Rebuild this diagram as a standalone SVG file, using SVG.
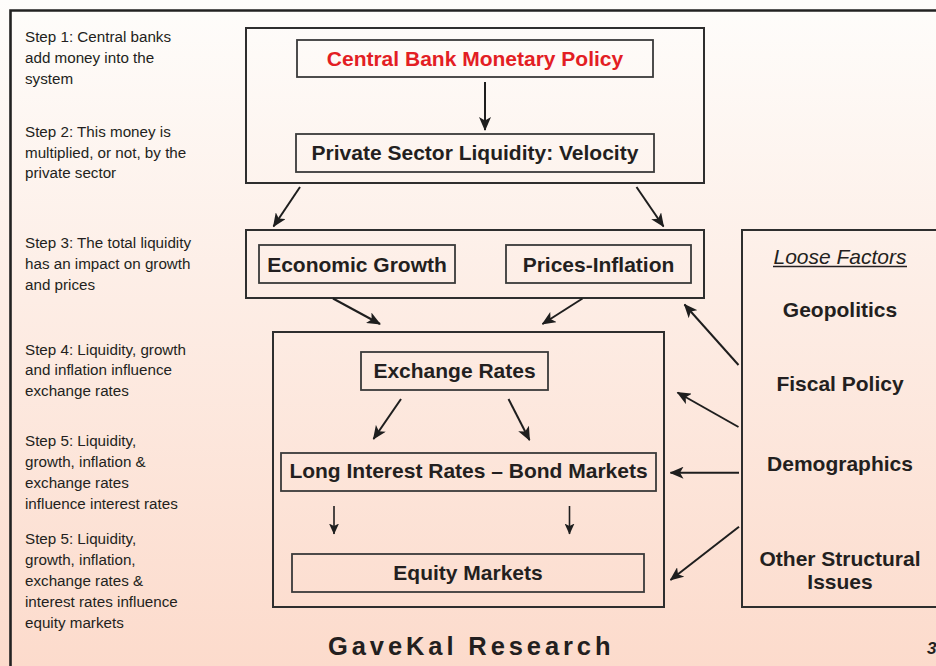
<svg xmlns="http://www.w3.org/2000/svg" width="936" height="666" viewBox="0 0 936 666">
<defs>
<linearGradient id="bg" x1="0" y1="0" x2="0" y2="1">
<stop offset="0" stop-color="#fefdfb"/>
<stop offset="0.45" stop-color="#fdede5"/>
<stop offset="1" stop-color="#fcdbcc"/>
</linearGradient>
<marker id="ah" markerUnits="userSpaceOnUse" markerWidth="14" markerHeight="12" viewBox="0 0 14 12" refX="13" refY="6" orient="auto">
<path d="M0,0 L14,6 L0,12 L3.5,6 Z" fill="#1e1e1e"/>
</marker>
<marker id="ahs" markerUnits="userSpaceOnUse" markerWidth="11" markerHeight="10" viewBox="0 0 11 10" refX="10.5" refY="5" orient="auto">
<path d="M0,0 L11,5 L0,10 L2.5,5 Z" fill="#1e1e1e"/>
</marker>
</defs>
<style>
.box{fill:none;stroke:#2e2e2e;stroke-width:2}
.ibox{fill:none;stroke:#3a3a3a;stroke-width:1.8}
.step{font-family:"Liberation Sans",Arial,sans-serif;font-size:15.2px;fill:#231f20}
.lbl{font-family:"Liberation Sans",Arial,sans-serif;font-size:21px;font-weight:bold;fill:#231f20;text-anchor:middle}
.red{fill:#e31e24}
.con{stroke:#1e1e1e;stroke-width:2;fill:none;marker-end:url(#ah)}
.cons{stroke:#1e1e1e;stroke-width:1.6;fill:none;marker-end:url(#ahs)}
</style>
<rect x="0" y="0" width="936" height="666" fill="url(#bg)"/>
<path d="M10.5,666 V10.5 H936" fill="none" stroke="#222" stroke-width="2.6"/>

<g id="steps">
<text class="step" x="25" y="42">Step 1: Central banks</text>
<text class="step" x="25" y="63">add money into the</text>
<text class="step" x="25" y="84">system</text>
<text class="step" x="25" y="137">Step 2: This money is</text>
<text class="step" x="25" y="157.5">multiplied, or not, by the</text>
<text class="step" x="25" y="178">private sector</text>
<text class="step" x="25" y="248">Step 3: The total liquidity</text>
<text class="step" x="25" y="269">has an impact on growth</text>
<text class="step" x="25" y="289.5">and prices</text>
<text class="step" x="25" y="354.5">Step 4: Liquidity, growth</text>
<text class="step" x="25" y="375">and inflation influence</text>
<text class="step" x="25" y="395.5">exchange rates</text>
<text class="step" x="25" y="446">Step 5: Liquidity,</text>
<text class="step" x="25" y="467">growth, inflation &amp;</text>
<text class="step" x="25" y="488">exchange rates</text>
<text class="step" x="25" y="509">influence interest rates</text>
<text class="step" x="25" y="544">Step 5: Liquidity,</text>
<text class="step" x="25" y="565">growth, inflation,</text>
<text class="step" x="25" y="586">exchange rates &amp;</text>
<text class="step" x="25" y="607">interest rates influence</text>
<text class="step" x="25" y="628">equity markets</text>
</g>

<g id="group-top"><rect class="box" x="246" y="28" width="458" height="155"/></g>
<g id="central-bank"><rect class="ibox" x="297" y="40" width="356" height="37"/><text class="lbl red" x="475" y="65.5">Central Bank Monetary Policy</text></g>
<g id="private-sector"><rect class="ibox" x="296" y="134" width="358" height="38"/><text class="lbl" x="475" y="160">Private Sector Liquidity: Velocity</text></g>

<g id="group-growth"><rect class="box" x="246" y="230" width="458" height="68"/></g>
<g id="economic-growth"><rect class="ibox" x="259" y="245" width="196" height="38"/><text class="lbl" x="357" y="271.5">Economic Growth</text></g>
<g id="prices-inflation"><rect class="ibox" x="506" y="245" width="185" height="38"/><text class="lbl" x="598.5" y="271.5">Prices-Inflation</text></g>

<g id="group-markets"><rect class="box" x="273" y="332" width="391" height="275"/></g>
<g id="exchange-rates"><rect class="ibox" x="361" y="352" width="187" height="38"/><text class="lbl" x="454.5" y="378">Exchange Rates</text></g>
<g id="long-rates"><rect class="ibox" x="281" y="453" width="375" height="38"/><text class="lbl" x="468.5" y="478">Long Interest Rates – Bond Markets</text></g>
<g id="equity-markets"><rect class="ibox" x="292" y="554" width="352" height="38"/><text class="lbl" x="468" y="579.5">Equity Markets</text></g>

<g id="loose-factors">
<rect class="box" x="742" y="230" width="210" height="377"/>
<text x="840" y="263.5" text-anchor="middle" font-family="'Liberation Sans',Arial,sans-serif" font-size="21" font-style="italic" fill="#231f20">Loose Factors</text>
<line x1="773" y1="266.5" x2="907" y2="266.5" stroke="#231f20" stroke-width="1.3"/>
<text class="lbl" x="840" y="317">Geopolitics</text>
<text class="lbl" x="840" y="391">Fiscal Policy</text>
<text class="lbl" x="840" y="471">Demographics</text>
<text class="lbl" x="840" y="566">Other Structural</text>
<text class="lbl" x="840" y="589">Issues</text>
</g>

<g id="connectors">
<line class="con" x1="485" y1="82" x2="485" y2="130"/>
<line class="con" x1="300" y1="187" x2="273.5" y2="226.5"/>
<line class="con" x1="636.5" y1="187" x2="663.5" y2="226.5"/>
<line class="con" x1="333" y1="298.5" x2="380" y2="324"/>
<line class="con" x1="582.5" y1="298.5" x2="542.5" y2="324"/>
<line class="con" x1="401" y1="399" x2="373.5" y2="439"/>
<line class="con" x1="508.5" y1="399" x2="529.5" y2="440"/>
<line class="cons" x1="334" y1="506" x2="334" y2="534"/>
<line class="cons" x1="569.5" y1="506" x2="569.5" y2="534"/>
<line class="con" x1="738.5" y1="365" x2="684.5" y2="304.5"/>
<line class="con" x1="738.5" y1="427" x2="677.5" y2="392.5"/>
<line class="con" x1="739" y1="472.7" x2="670.5" y2="472.7"/>
<line class="con" x1="739" y1="526.7" x2="670.5" y2="580"/>
</g>

<g id="footer">
<text x="328" y="655" font-family="'Liberation Sans',Arial,sans-serif" font-size="25.5" font-weight="bold" letter-spacing="3.9" fill="#231f20">GaveKal Research</text>
<text x="927" y="654" font-family="'Liberation Sans',Arial,sans-serif" font-size="17" font-weight="bold" font-style="italic" fill="#231f20">3</text>
</g>
</svg>
